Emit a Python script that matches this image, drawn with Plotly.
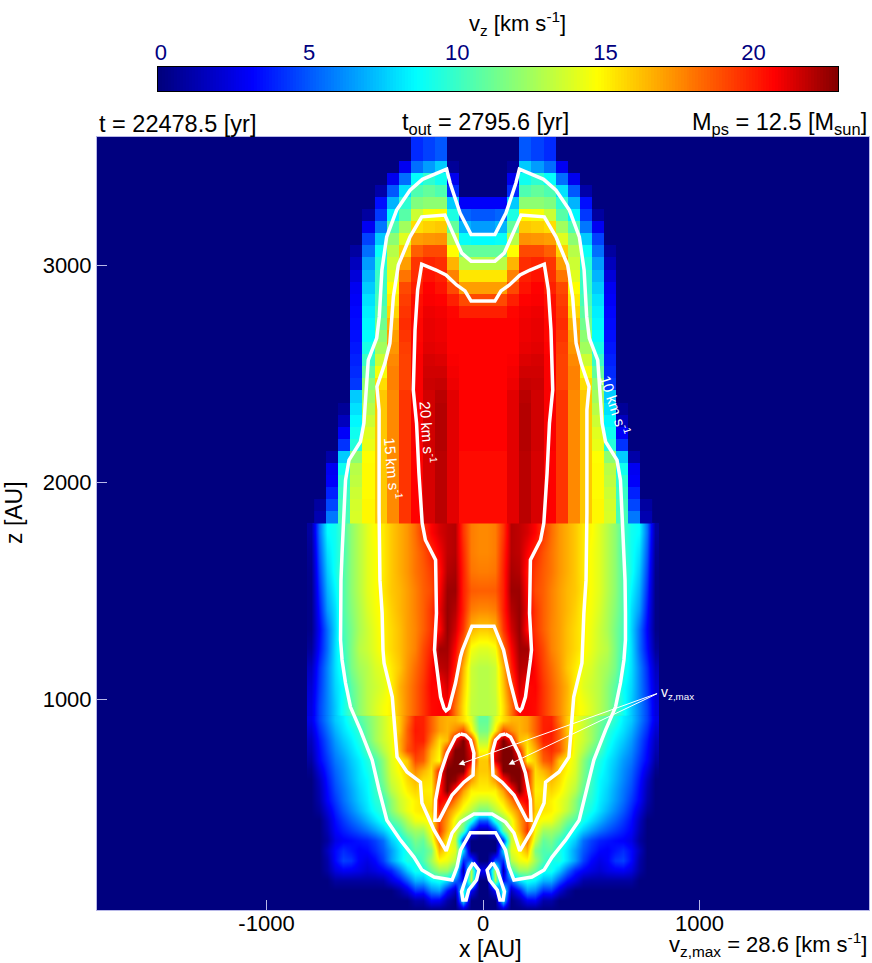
import plotly.graph_objects as go

FONT = "Liberation Sans"
W, H = 872, 963

# half-profiles (|x|), top row first. vz in km/s
top_dx = 55.7
top_z0 = 1810.0
top_rows = [
 [0,0,0,5,4.5,4,0,0,0,0,0,0,0,0],
 [0,0,0,5,4.5,4,0,0,0,0,0,0,0,0],
 [0,0,0.6,7.5,6.5,5.5,2.8,0,0,0,0,0,0,0],
 [0,0,2.7,9,9.7,8.7,5.5,2.7,0,0,0,0,0,0],
 [0,0,4,10.5,11,10.5,8,5,1,0,0,0,0,0],
 [3,3,7.5,12,12,11.7,9.7,7,3.4,0,0,0,0,0],
 [5,5.3,9.3,14.8,14.5,13.5,10.7,8.5,4.3,0.8,0,0,0,0],
 [6.5,7,11,16,15.8,15.5,12.5,10.5,5.7,2.8,0,0,0,0],
 [8.6,8.8,13,17.3,17.2,17,14,12,7.5,4.5,0,0,0,0],
 [11,11,14.7,19,19,18.5,15.8,13,8.8,5.5,0.8,0,0,0],
 [13,13,16.5,19.7,19.9,19.5,17,13.5,9.5,6.5,1.5,0,0,0],
 [15.3,15.3,17.7,20,20.3,19.7,18,14,10,7,2.2,0,0,0],
 [17,17,19,20.3,20.7,20,19,14.7,10,7.5,2.8,0,0,0],
 [19,19,20,20.7,20.8,20.4,19.3,15.2,10.3,8,3,0,0,0],
 [20,20,20.6,20.9,21,20.5,19.5,15.7,10.8,8.3,3.2,0,0,0],
 [20.7,20.7,20.7,21,21.1,20.6,19.7,16.5,11.3,8.5,3.3,0,0,0],
 [20.7,20.7,20.7,21,21.1,20.6,19.5,17,12,8.7,3.4,0,0,0],
 [20.7,20.7,20.7,21.1,21.2,20.7,19.3,17.2,12.5,9.2,3.6,0,0,0],
 [20.7,20.7,20.8,21.3,21.4,20.8,19.2,17.5,13.5,10,3.8,0,0,0],
 [20.7,20.7,20.9,21.5,21.5,20.8,19.2,17.7,14.5,11,4,0,0,0],
 [20.7,20.7,21,21.7,21.6,20.8,19.2,17.7,15.5,12,4.3,0,0,0],
 [20.7,20.7,21.2,21.9,21.5,20.8,19.5,17.5,16,12.5,7.5,0,0,0],
 [20.7,20.7,21.2,22,21.5,20.8,19.5,17.5,16,13,8,0.6,0,0],
 [20.7,20.7,21.2,22,21.5,20.8,19.5,17.5,16,13.5,8.5,1.5,0,0],
 [20.7,20.7,21.2,22,21.5,20.8,19.5,17.5,16,14,9,3,0,0],
 [20.7,20.7,21.2,22,21.5,20.8,19.5,17.5,16,14.2,9.5,4.2,0,0],
 [20.5,20.5,21.2,21.9,21.4,20.7,19.5,17.5,16,14.7,12,7.5,1,0],
 [20.5,20.5,21.2,21.9,21.4,20.7,19.5,17.5,16,14.8,13,9,2.8,0],
 [20.5,20.5,21.2,21.9,21.4,20.7,19.5,17.5,16,14.8,13.2,9.7,3,0],
 [20.5,20.5,21.2,21.9,21.4,20.7,19.5,17.5,16,14.8,13.5,10,3.8,0],
 [20.5,20.5,21.2,21.9,21.4,20.7,19.5,17.5,16,14.9,13.7,10.2,4.6,0.8],
 [20.5,20.5,21.2,21.9,21.4,20.7,19.5,17.5,16,14.9,13.8,10.3,5.7,1.2],
]

mid_dx = 36.96
mid_dz = 88.8
mid_z0 = 968.0
mid_rows = [
 [17.5,17.8,19.5,22,21.8,21.4,20.7,19.5,18.2,17.2,16.6,16,15.2,14.8,14,13,12,10.3,9,8.6,5.5,0.8],
 [17.5,17.8,19.8,22,21.8,20.8,19.8,18.8,18,17.2,16.6,16,15.2,14.6,14,13,12,10.2,9,8,5,0.5],
 [17.8,18,20,22.2,22,20.3,19.3,18.6,18,17.2,16.6,16,15.2,14.6,14,13,12,10.5,9,7.5,4.5,0.3],
 [18.5,18.6,20,22.4,22.4,20.6,19,18.5,17.7,17,16.4,16,15.3,14.6,14,13,12,10.5,8.5,7,4,0.2],
 [17.5,17.8,20,22,22.5,21,19.5,18.5,17.7,17,16.4,15.8,15,14.5,13.8,12.8,11.8,10.5,8,6.5,3.5,0.2],
 [16,16.5,19.5,21.5,22.5,20.5,19.5,18.5,17.6,17,16.2,15.6,15,14.3,13.5,12.7,11.5,10.3,7.8,5.5,3,0.2],
 [14,14.5,18,20.7,22.3,22.3,20,19,17.7,17,16.2,15.6,15,14.2,13.5,13,11.6,10,8,5.5,3.3,0.6],
 [13,13.5,16.5,20,22,21.8,20.5,19.2,18.2,17.2,16,15.2,14.2,13.8,13,12.5,11.5,9.5,8,6,4,1.5],
 [13,13.5,16,19,21.5,20.5,20.7,19.5,18.5,17.5,16.5,15,14,13.5,13,12,10.8,8.8,7.8,6,4.2,2],
 [13,13.3,15.5,18,20.7,20.7,20.5,19.5,18.5,17.5,16.3,15,14.5,13.8,13,12,10.5,9,7.5,6,4.5,2.3],
]

low_dx = 36.96
low_dz = 46.08
low_z0 = 26.0
low_rows = [
 [11,14,15.5,16.5,16.5,17,18.5,20,20,18,16,14.5,13.5,12.5,11.5,10.5,9.5,8.3,7.5,6,4.5,2.5],
 [11.5,15,19,17.5,16.5,17,18.5,20,20.2,18.5,16,14.5,13.5,12.5,11.3,9.7,8.8,8,7,5.5,4,2],
 [13,20,23,21,16.3,15.5,17.7,20,20,18.5,16.5,14.3,13.5,12.5,11,9.3,8.3,7.5,6.5,5,3.5,1.5],
 [14.7,21,23,23,20,15,16.5,19,19.7,18.8,16.3,14.2,13,11.5,10.3,8.8,7.9,7,6.1,4.7,3.2,1.2],
 [16,21.5,23,23,22,14.7,16,18.5,19,16,15,14,12,10.3,9.3,8.3,7.5,6.5,5.7,4.3,3,0.8],
 [16,17.7,23,23,23,20,15.5,16.5,17.5,15.8,14.8,13.8,11.8,10,9,8.1,7.2,6.2,5.3,3.9,2.2,0.3],
 [15.5,17,20,22.5,23,20,15.3,15.5,16.3,15.5,14.3,13.5,11.5,10,8.6,8,7,6,5,3.5,1.5,0],
 [15,15,17,20,23,20,15,15.2,15.7,15,14,13,11,9.8,8.5,7.7,6.7,5.7,4.7,3.2,1.2,0],
 [13.5,14.3,15.5,17.7,20,21,15.3,15.5,15,14.3,13.5,12,10,9.5,8.3,7.5,6.5,5.5,4.3,3,1,0],
 [11.5,13,14.3,16,17.7,20,15.8,15.3,15,14.3,13.2,11.8,9.8,9,8,7,6,5,3.8,2.2,0.6,0],
 [5,9.5,12,14.3,17,19,15,14.5,14.3,13,11.5,10.5,9,8,7,6,5.2,4.3,3.3,1.5,0,0],
 [1,4,11,14,16.5,19.5,14.7,12.5,12.5,11.8,10,8.8,7.5,6.5,5.6,4.9,4.3,3.7,3,1.2,0,0],
 [0,0,4,13.5,15,18,13.5,11,11.5,10,8.6,7.5,5.5,4.5,3.8,3.5,3.2,3,2.5,0.8,0,0],
 [0,0,8,14,15,16.5,11.6,10.5,10.7,9.2,8,6.5,5,4,3.2,3,3.5,4,3.2,1.5,0,0],
 [0,5,4,13,14.3,14.7,12.5,10.5,9,9.3,8,6.5,4.5,3.2,2.5,3,4.2,4.5,3.2,1,0,0],
 [3,13,1,10,12.3,12.3,11,9,9,7.5,5.5,3.8,3,2.4,2,2.5,2.8,2.9,2.3,0.8,0,0],
 [0,13,3,5.5,8,9,8.5,7,7,5,3.3,2.3,1,0.8,0.8,0.8,0.8,0.8,0.8,0,0,0],
 [0,3,10,1.5,3.5,6.5,6,4,4.2,2.2,0.8,0,0,0,0,0,0,0,0,0,0,0],
 [0,0,8,0,1,2.8,3,1,1,0,0,0,0,0,0,0,0,0,0,0,0,0],
 [0,0,1,0,0,0,0,0,0,0,0,0,0,0,0,0,0,0,0,0,0,0],
]

# contour outlines: half outlines in AU
c10_x = [0,55,106,152,168,280,337,399,445,467,479,491,530,550,566,619,635,642,651,656,658,658,651,635,612,566,512,480,444,381,319,282,226,143,120,104,58,0]
c10_z = [3141,3141,3239,3378,3442,3395,3345,3253,3130,2977,2762,2663,2562,2272,2186,2101,2009,1857,1673,1548,1396,1272,1180,1074,963,857,719,581,442,350,272,212,180,166,226,304,384,384]
c15_x = [0,55,98,137,176,283,337,391,414,430,453,490,480,480,476,466,462,457,419,397,351,289,282,226,170,143,104,42,0]
c15_z = [3018,3018,3055,3147,3230,3222,3130,3000,2854,2640,2548,2439,2332,1857,1548,1396,1226,1166,1009,733,664,617,521,396,300,383,433,470,470]
c20_x = [0,55,83,122,171,217,283,302,314,322,307,296,281,266,219,215,224,219,196,180,171,157,127,104,95,51,0]
c20_z = [2834,2834,2881,2908,2954,2977,3004,2885,2700,2424,2272,2041,1811,1733,1641,1396,1226,1180,1009,958,946,958,1074,1194,1226,1336,1336]
lobe_x = [104,127,165,196,219,222,203,180,143,88,46,42,58,81,104]
lobe_z = [839,825,751,659,535,442,442,489,558,617,650,751,811,834,839]
tip_x = [45,19,30,66,78,93,99,81,66,45]
tip_z = [246,212,166,120,74,74,112,166,212,246]

cbar_ticks = [0, 5, 10, 15, 20]
x_ticks = [-1000, 0, 1000]
x_tick_labels = ["-1000", "0", "1000"]
z_ticks = [1000, 2000, 3000]

vmax = 22.9
jet = [[0, "#00007f"], [0.136, "#0000ff"], [0.377, "#00ffff"], [0.643, "#ffff00"], [0.905, "#ff0000"], [1, "#7f0000"]]

fig = go.Figure()

def mirror(rows):
    return [r[::-1] + r for r in rows]

n = len(low_rows[0])
fig.add_trace(go.Heatmap(z=mirror(low_rows[::-1]), x0=-(n - 0.5) * low_dx, dx=low_dx,
                         y0=low_z0, dy=low_dz, coloraxis="coloraxis", zsmooth="best", hoverinfo="skip"))
n = len(mid_rows[0])
fig.add_trace(go.Heatmap(z=mirror(mid_rows[::-1]), x0=-(n - 0.5) * mid_dx, dx=mid_dx,
                         y0=mid_z0, dy=mid_dz, coloraxis="coloraxis", zsmooth="best", hoverinfo="skip"))
n = len(top_rows[0])
fig.add_trace(go.Heatmap(z=mirror(top_rows[::-1]), x0=-(n - 0.5) * top_dx, dx=top_dx,
                         y0=top_z0 + top_dx / 2, dy=top_dx, coloraxis="coloraxis", hoverinfo="skip"))

# colour-scale ramp, on its own small axes
ramp = [i * vmax / 229 for i in range(230)]
fig.add_trace(go.Heatmap(z=[ramp], x0=0, dx=vmax / 229, y0=0, coloraxis="coloraxis",
                         xaxis="x2", yaxis="y2", hoverinfo="skip"))

def outline(xs, zs):
    fig.add_trace(go.Scatter(x=xs, y=zs, mode="lines", line=dict(color="white", width=3.5),
                             showlegend=False, hoverinfo="skip"))

for xs, zs in [(c10_x, c10_z), (c15_x, c15_z), (c20_x, c20_z)]:
    outline([-v for v in xs[::-1]] + xs, zs[::-1] + zs)
for xs, zs in [(lobe_x, lobe_z), (tip_x, tip_z)]:
    outline(xs, zs)
    outline([-v for v in xs], zs)

def label(text, x, y, size=23.5, anchor="center", color="black", angle=0, xref="paper", yref="paper"):
    fig.add_annotation(text=text, x=x, y=y, xref=xref, yref=yref, showarrow=False, xanchor=anchor,
                       yanchor="middle", textangle=angle, font=dict(family=FONT, size=size, color=color))

def page(px, py):
    return px / W, 1 - py / H

label("v<sub>z</sub> [km s<sup>-1</sup>]", *page(517, 23), size=22)
label("t = 22478.5 [yr]", *page(97, 124), anchor="left")
label("t<sub>out</sub> = 2795.6 [yr]", *page(485, 124))
label("M<sub>ps</sub> = 12.5 [M<sub>sun</sub>]", *page(869, 124), anchor="right")
label("v<sub>z,max</sub> = 28.6 [km s<sup>-1</sup>]", *page(869, 944), anchor="right", size=22)
label("x [AU]", *page(490, 949), size=23)
label("z [AU]", *page(14, 513), size=23, angle=-90)
label("20 km s<sup>-1</sup>", -250, 2230, size=15, color="white", angle=86, xref="x", yref="y")
label("15 km s<sup>-1</sup>", -412, 2064, size=15, color="white", angle=85, xref="x", yref="y")
label("10 km s<sup>-1</sup>", 615, 2355, size=15, color="white", angle=72, xref="x", yref="y")
label("v<sub>z,max</sub>", 815, 1030, size=14, color="white", anchor="left", xref="x", yref="y")
for tip in (-113, 118):
    fig.add_annotation(x=tip, y=698, ax=811, ay=1028, xref="x", yref="y", axref="x", ayref="y", text="",
                       showarrow=True, arrowhead=2, arrowsize=1.2, arrowwidth=1, arrowcolor="white")

axis_line = "#b8b8e8"
fig.update_layout(
    width=W, height=H, autosize=False,
    margin=dict(l=0, r=0, t=0, b=0, autoexpand=False),
    paper_bgcolor="white", plot_bgcolor="#00007f",
    font=dict(family=FONT, size=22, color="black"),
    showlegend=False,
    coloraxis=dict(cmin=0, cmax=vmax, colorscale=jet, showscale=False),
    xaxis=dict(domain=[97 / W, 869 / W], anchor="y", range=[-1783, 1783], tickvals=x_ticks, ticktext=x_tick_labels,
               ticks="inside", ticklen=10, tickcolor=axis_line, ticklabelstandoff=-6, showgrid=False, zeroline=False,
               showline=True, linecolor=axis_line, mirror=True, automargin=False),
    yaxis=dict(domain=[1 - 910 / H, 1 - 137 / H], anchor="x", range=[28, 3590], tickvals=z_ticks, ticks="inside",
               ticklen=10, tickcolor=axis_line, showgrid=False, zeroline=False, showline=True,
               linecolor=axis_line, mirror=True, automargin=False),
    xaxis2=dict(domain=[158 / W, 838 / W], anchor="y2", side="top", range=[-0.1, 22.85], tickvals=cbar_ticks,
                ticks="", tickfont=dict(family=FONT, size=22, color="#000080"), ticklabelstandoff=-3, showgrid=False,
                zeroline=False, showline=True, linecolor="black", mirror=True, automargin=False),
    yaxis2=dict(domain=[1 - 91 / H, 1 - 67 / H], anchor="x2", range=[-0.5, 0.5], showticklabels=False, ticks="",
                showgrid=False, zeroline=False, showline=True, linecolor="black", mirror=True, automargin=False),
)

fig.write_html("out.html", config=dict(displayModeBar=False),
               post_script="document.body.style.margin='0';document.body.style.overflow='hidden';")
